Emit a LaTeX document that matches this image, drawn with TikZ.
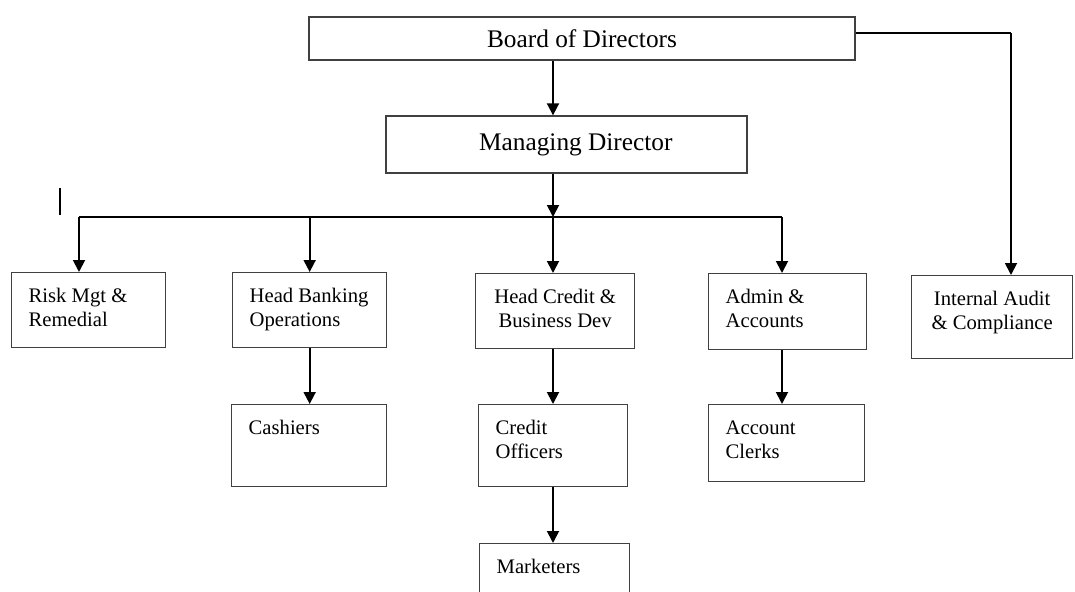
\documentclass[tikz,border=0pt]{standalone}
\usepackage{fontspec}
\setmainfont{Liberation Serif}
\usetikzlibrary{arrows.meta}

\begin{document}
\begin{tikzpicture}[line cap=butt,line join=miter,>={Triangle[length=9pt,width=9pt]},x=0.75pt,y=-0.75pt]
\tikzset{
  head/.style={draw=black!75,line width=1pt,inner sep=0pt,font=\fontsize{19}{22}\selectfont},
  unit/.style={draw=black!75,line width=1pt,anchor=north west,inner xsep=12.75pt,inner ysep=0pt,
    text height=22.5pt,font=\fontsize{15.5}{18}\selectfont,align=flush left},
  arr/.style={->,line width=1.4pt},
  wire/.style={line width=0.9pt}
}
\useasboundingbox (0,0) rectangle (1075,592);
% top of the chart
\node[head,minimum width=409.5pt,minimum height=32.25pt] (board) at (582,38.5) {Board of Directors};
\node[head,minimum width=270.75pt,minimum height=42.75pt] (md) at (566.5,144.5) {\hspace*{14pt}Managing Director};
% heads of departments
\node[unit,text width=90pt,text depth=33.75pt] (risk) at (11,272) {Risk Mgt \&\\Remedial};
\node[unit,text width=90pt,text depth=33.75pt] (hb) at (232,272) {\mbox{Head Banking}\\Operations};
\node[unit,text width=93.75pt,text depth=33.75pt,align=flush center] (hc) at (475,273) {\mbox{Head Credit \&}\\\mbox{Business Dev}};
\node[unit,text width=93pt,text depth=34.5pt] (admin) at (708,273) {Admin \&\\Accounts};
\node[unit,text width=95.25pt,text depth=39.75pt,align=flush center] (audit) at (911,275) {\mbox{Internal Audit}\\\mbox{\& Compliance}};
% staff
\node[unit,text width=90.75pt,text depth=39pt] (cash) at (231,404) {Cashiers};
\node[unit,text width=86.25pt,text depth=39pt] (co) at (478,404) {Credit\\Officers};
\node[unit,text width=91.5pt,text depth=35.25pt] (clerks) at (708,404) {Account\\Clerks};
\node[unit,text width=87pt,text depth=39pt] (mkt) at (479,543) {Marketers};

\coordinate (hub) at (553,217);
\coordinate (westend) at (79,217);
\coordinate (eastend) at (782,217);
\coordinate (bend) at (1011,33);
\coordinate (stray top) at (60,188);
\coordinate (stray bot) at (60,215);

\draw[arr] (board.south -| hub) -- (md.north -| hub);
\draw[arr] (md.south -| hub) -- (hub);
\draw[wire] (westend) -- (eastend);
\draw[arr] (westend) -- (risk.north -| westend);
\draw[arr] (hb.north |- hub) -- (hb.north);
\draw[arr] (hub) -- (hc.north -| hub);
\draw[arr] (eastend) -- (admin.north -| eastend);
\draw[wire] (board.east |- bend) -- (bend);
\draw[arr] (bend) -- (audit.north -| bend);
\draw[arr] (hb.south) -- (cash.north -| hb.south);
\draw[arr] (hc.south -| hub) -- (co.north -| hub);
\draw[arr] (co.south -| hub) -- (mkt.north -| hub);
\draw[arr] (admin.south -| eastend) -- (clerks.north -| eastend);
\draw[wire] (stray top) -- (stray bot);
\end{tikzpicture}
\end{document}
